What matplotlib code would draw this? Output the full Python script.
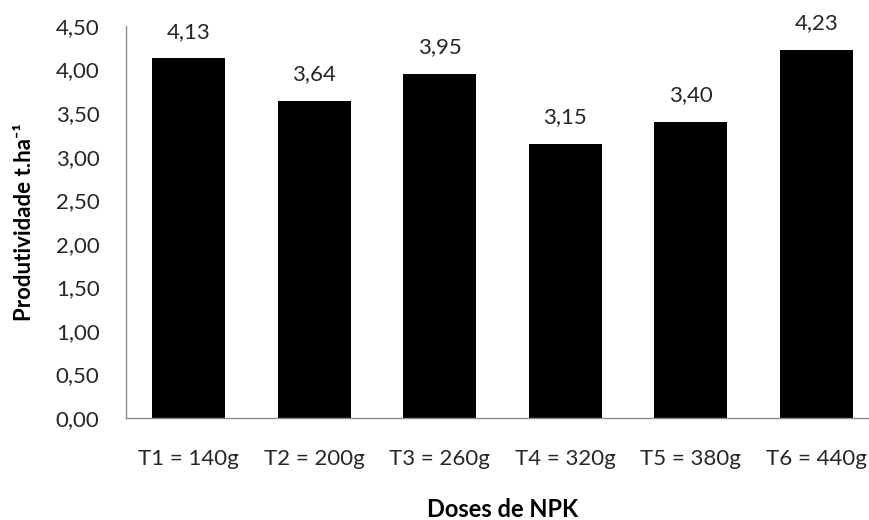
import matplotlib
matplotlib.use("Agg")
from matplotlib import pyplot as plt
import numpy as np

# NPK doses and yields
doses = ["T1 = 140g", "T2 = 200g", "T3 = 260g", "T4 = 320g", "T5 = 380g", "T6 = 440g"]
produtividade = [4.13, 3.64, 3.95, 3.15, 3.40, 4.23]
yticks = np.arange(0, 4.51, 0.5)

plt.rcParams['font.family'] = ['Lato', 'DejaVu Sans']

fig = plt.figure(figsize=(8.69, 5.2), dpi=100)
ax = fig.add_axes([126 / 869, 102 / 520, 753 / 869, 392 / 520])

x = np.arange(len(doses))
ax.bar(x, produtividade, width=0.58, color='black')

def br(v):
    return f"{v:.2f}".replace('.', ',')

for xi, v in zip(x, produtividade):
    ax.annotate(br(v), (xi, v), xytext=(0, 19), textcoords='offset points',
                ha='center', va='center', fontsize=16, color='#262626')

ax.set_xlim(-0.5, len(doses) - 0.5)
ax.set_ylim(0, 4.5)
ax.set_yticks(yticks)
ax.set_yticklabels([br(t) for t in yticks])
ax.set_xticks(x)
ax.set_xticklabels(doses)
ax.tick_params(axis='y', length=0, pad=19, labelsize=16, labelcolor='#262626')
ax.tick_params(axis='x', length=0, pad=22, labelsize=16, labelcolor='#262626')

for s in ['top', 'right']:
    ax.spines[s].set_visible(False)
for s in ['left', 'bottom']:
    ax.spines[s].set_color('#8c8c8c')
    ax.spines[s].set_linewidth(1.0)

ax.set_xlabel("Doses de NPK", fontsize=17, fontweight='bold', labelpad=21)
ax.set_ylabel("Produtividade t.ha⁻¹", fontsize=16, fontweight='bold', labelpad=15)

fig.savefig("out.png", dpi=100)
